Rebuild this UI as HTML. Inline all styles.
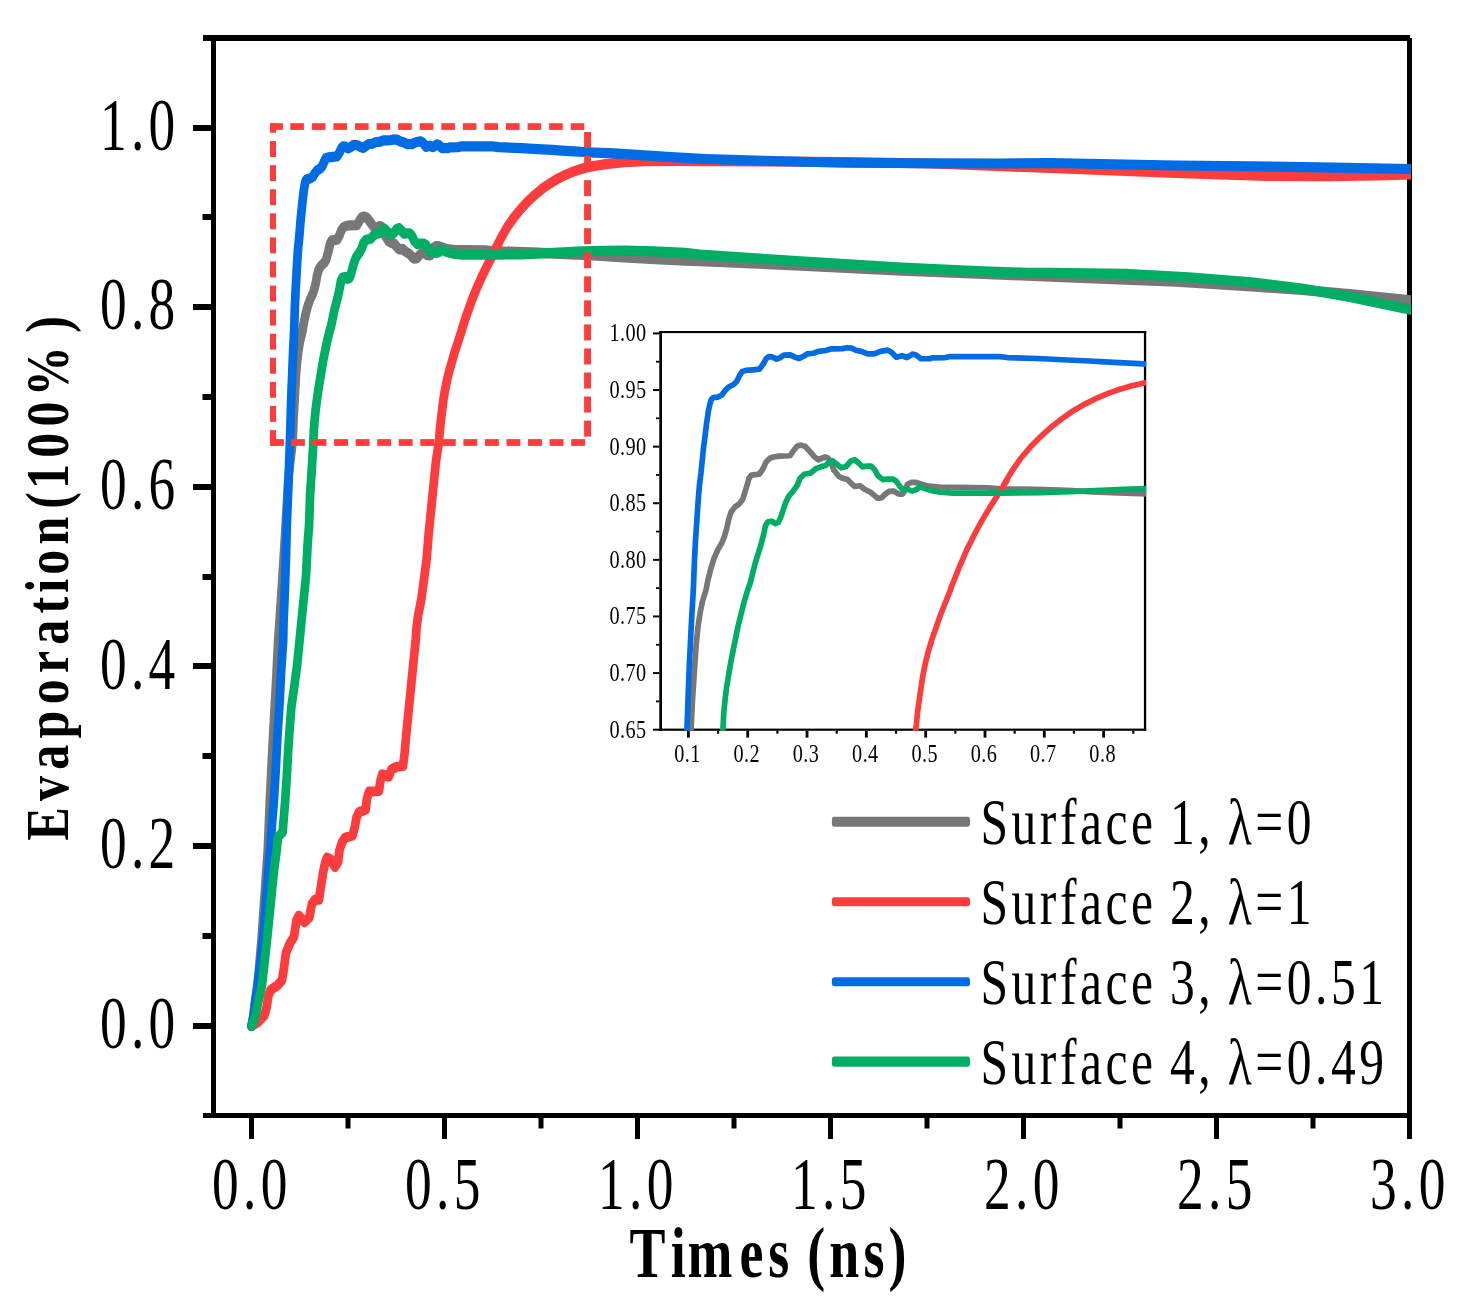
<!DOCTYPE html>
<html><head><meta charset="utf-8"><title>Evaporation</title>
<style>html,body{margin:0;padding:0;background:#fff}svg{display:block}text{font-family:"Liberation Serif",serif;fill:#000}</style>
</head><body>
<svg width="1469" height="1303" viewBox="0 0 1469 1303">
<rect x="0" y="0" width="1469" height="1303" fill="#fff"/>
<defs>
<clipPath id="cm"><rect x="0" y="0" width="1650.29" height="1303"/></clipPath>
<clipPath id="ci"><rect x="600" y="300" width="546.20" height="430.80"/></clipPath>
</defs>
<rect x="203.00" y="35.00" width="1207.00" height="6.00" fill="#000"/>
<rect x="203.00" y="1113.00" width="1209.00" height="5.00" fill="#000"/>
<rect x="211.00" y="35.00" width="5.00" height="1083.00" fill="#000"/>
<rect x="1407.00" y="38.00" width="5.00" height="1101.00" fill="#000"/>
<rect x="193.00" y="1023.00" width="18.00" height="6.00" fill="#000"/>
<rect x="193.00" y="843.00" width="18.00" height="6.00" fill="#000"/>
<rect x="193.00" y="663.00" width="18.00" height="6.00" fill="#000"/>
<rect x="193.00" y="484.00" width="18.00" height="6.00" fill="#000"/>
<rect x="193.00" y="304.00" width="18.00" height="6.00" fill="#000"/>
<rect x="193.00" y="125.00" width="18.00" height="6.00" fill="#000"/>
<rect x="202.50" y="933.00" width="8.50" height="6.00" fill="#000"/>
<rect x="202.50" y="753.00" width="8.50" height="6.00" fill="#000"/>
<rect x="202.50" y="574.00" width="8.50" height="6.00" fill="#000"/>
<rect x="202.50" y="394.00" width="8.50" height="6.00" fill="#000"/>
<rect x="202.50" y="214.00" width="8.50" height="6.00" fill="#000"/>
<rect x="249.00" y="1118.00" width="5.00" height="21.00" fill="#000"/>
<rect x="442.00" y="1118.00" width="5.00" height="21.00" fill="#000"/>
<rect x="635.00" y="1118.00" width="5.00" height="21.00" fill="#000"/>
<rect x="828.00" y="1118.00" width="5.00" height="21.00" fill="#000"/>
<rect x="1021.00" y="1118.00" width="5.00" height="21.00" fill="#000"/>
<rect x="1214.00" y="1118.00" width="5.00" height="21.00" fill="#000"/>
<rect x="345.50" y="1118.00" width="5.00" height="10.50" fill="#000"/>
<rect x="538.50" y="1118.00" width="5.00" height="10.50" fill="#000"/>
<rect x="731.50" y="1118.00" width="5.00" height="10.50" fill="#000"/>
<rect x="924.50" y="1118.00" width="5.00" height="10.50" fill="#000"/>
<rect x="1117.50" y="1118.00" width="5.00" height="10.50" fill="#000"/>
<rect x="1310.50" y="1118.00" width="5.00" height="10.50" fill="#000"/>
<g transform="scale(0.8550,1)" clip-path="url(#cm)" fill="none" stroke-linecap="round" stroke-linejoin="round" stroke-width="10.20">
<path d="M294.15 1026.00 L296.26 1016.70 L298.36 1001.40 L300.94 986.00 L303.16 966.90 L305.85 940.00 L308.77 904.50 L311.35 872.20 L313.22 850.00 L315.58 801.19 L319.35 736.71 L322.55 688.36 L325.38 640.00 L329.34 591.19 L334.05 526.71 L337.26 478.36 L342.20 442.03 L342.66 433.75 L343.32 419.15 L344.25 404.54 L345.19 389.93 L346.12 375.33 L347.52 360.72 L348.92 350.98 L350.79 341.24 L353.60 331.50 L355.00 324.19 L357.33 314.45 L359.67 306.66 L362.47 299.84 L365.75 294.00 L367.61 289.13 L369.48 282.31 L370.88 275.50 L372.75 269.65 L375.56 265.76 L379.30 262.84 L381.63 259.43 L383.50 253.10 L384.90 248.23 L386.30 243.07 L388.17 240.34 L394.25 239.66 L397.05 235.27 L399.39 229.92 L402.19 227.00 L404.99 226.02 L409.20 225.34 L417.61 225.05 L420.41 220.67 L423.22 217.26 L426.02 216.58 L429.29 217.75 L432.56 221.64 L436.30 226.02 L439.10 228.26 L441.91 227.00 L444.24 226.02 L446.58 227.00 L448.92 230.41 L450.79 236.25 L451.81 237.44 L454.61 241.34 L457.41 242.80 L461.15 243.77 L463.95 246.70 L466.76 249.42 L470.96 248.84 L474.23 251.56 L478.91 254.00 L481.71 256.43 L484.05 258.58 L487.32 258.38 L490.12 255.46 L492.92 253.32 L496.66 253.03 L499.93 255.27 L503.20 255.46 L505.26 252.54 L506.94 247.67 L509.75 246.21 L513.48 246.21 L517.22 247.47 L522.83 249.13 L531.24 249.81 L545.26 250.10 L567.68 250.40 L577.38 251.37 L605.42 251.76 L628.78 252.54 L648.40 253.71 L667.09 254.49 L689.52 255.27 L729.82 257.44 L765.65 259.07 L801.47 260.70 L818.71 261.11 L936.56 265.64 L1054.40 270.68 L1142.78 273.58 L1228.07 276.73 L1375.37 281.76 L1463.76 286.30 L1522.68 289.95 L1581.60 294.36 L1652.30 300.53" stroke="#777777"/>
<path d="M294.09 1026.01 L301.44 1022.14 L308.98 1015.69 L311.81 1007.63 L313.69 996.35 L316.52 989.90 L324.06 985.87 L329.72 980.23 L331.98 968.95 L334.43 952.83 L339.14 943.16 L343.86 936.71 L346.68 920.59 L349.51 915.76 L356.11 922.21 L361.77 917.37 L364.59 904.47 L368.36 899.64 L373.08 899.64 L374.99 888.31 L377.86 872.60 L380.30 862.77 L382.60 857.62 L386.91 859.71 L391.79 866.95 L395.52 861.55 L396.96 850.50 L399.83 842.89 L403.71 837.61 L412.32 835.52 L414.91 827.17 L417.06 817.35 L419.93 812.19 L427.69 809.74 L429.12 798.93 L431.71 791.57 L443.20 790.95 L445.06 780.27 L447.22 774.38 L454.68 776.59 L458.13 769.22 L464.02 766.76 L471.20 766.03 L472.35 759.28 L473.35 752.28 L474.88 736.71 L477.71 712.53 L480.54 688.36 L483.36 664.18 L486.19 640.00 L487.13 628.26 L489.02 615.36 L492.79 599.25 L496.56 575.07 L499.01 558.95 L501.27 534.77 L504.10 510.59 L506.93 486.42 L509.76 462.24 L513.11 443.01 L513.67 438.62 L514.60 428.88 L515.82 419.15 L517.22 409.41 L518.62 399.67 L520.49 389.93 L522.83 380.19 L525.63 370.46 L528.90 360.72 L532.17 350.98 L535.91 341.24 L539.65 331.50 L540.58 328.50 L546.19 313.89 L552.27 299.28 L558.34 286.62 L563.95 275.91 L569.55 266.17 L576.09 255.46 L582.64 244.75 L580.18 247.93 L586.73 236.74 L593.27 227.00 L600.74 217.75 L609.15 208.98 L617.56 201.19 L625.98 194.57 L634.39 188.53 L642.80 183.66 L651.21 179.28 L659.62 175.58 L668.03 172.46 L676.44 169.83 L682.98 168.28 L689.52 166.82 L708.32 164.11 L729.82 162.07 L753.70 161.05 L789.53 160.85 L825.36 161.05 L892.37 161.49 L992.53 161.99 L1083.86 163.50 L1113.32 164.26 L1172.24 166.27 L1228.07 167.91 L1301.72 170.30 L1375.37 172.95 L1481.43 175.97 L1552.14 176.10 L1611.06 175.47 L1652.30 174.46" stroke="#fd3d3d"/>
<path d="M294.15 1026.00 L296.37 1016.70 L298.60 1001.40 L301.29 986.00 L304.44 963.00 L307.60 940.00 L310.88 904.50 L313.80 872.20 L315.79 850.00 L316.14 849.54 L318.03 825.36 L320.29 801.19 L322.55 768.95 L324.44 736.71 L326.89 704.47 L328.77 672.24 L331.23 640.00 L331.60 623.42 L333.11 591.19 L334.43 558.95 L335.37 526.71 L336.88 494.47 L338.20 462.24 L339.11 442.03 L339.58 428.88 L340.23 409.41 L340.98 389.93 L341.92 370.46 L342.85 350.98 L343.97 331.50 L344.91 306.66 L345.65 292.05 L346.59 277.44 L347.52 262.84 L348.64 248.23 L349.86 238.20 L350.79 228.46 L351.73 218.72 L352.94 208.98 L354.06 199.24 L355.47 189.51 L356.68 183.66 L357.61 180.55 L359.20 178.99 L362.47 178.60 L365.75 176.85 L368.08 173.44 L370.88 170.52 L374.62 168.57 L376.96 166.13 L379.30 161.26 L381.16 158.15 L383.97 157.37 L389.57 156.88 L394.25 156.40 L397.05 152.50 L399.39 148.12 L401.26 146.46 L404.06 146.66 L407.33 148.41 L410.13 147.14 L412.94 145.20 L417.61 145.00 L421.35 146.85 L424.62 147.83 L427.89 146.17 L430.69 144.22 L435.37 143.74 L439.10 142.28 L444.71 141.59 L448.45 140.33 L451.81 140.33 L457.41 140.04 L461.15 139.35 L464.42 139.65 L468.16 141.59 L471.90 142.28 L476.57 144.22 L481.71 144.22 L486.38 142.28 L491.99 141.30 L494.79 142.96 L498.53 146.85 L502.74 145.68 L506.47 147.14 L511.15 144.42 L513.48 145.20 L517.22 148.12 L523.76 148.12 L525.63 147.44 L535.91 147.14 L538.71 146.46 L554.60 146.46 L577.03 146.46 L582.99 147.14 L610.09 148.12 L628.78 149.09 L645.60 149.87 L656.81 150.55 L671.77 151.33 L682.98 152.01 L689.52 152.40 L717.88 153.29 L753.70 155.33 L789.53 157.38 L825.36 159.01 L892.37 160.73 L986.64 162.75 L1083.86 163.25 L1172.24 163.50 L1228.07 163.00 L1375.37 165.52 L1463.76 166.27 L1543.30 167.28 L1652.30 169.04" stroke="#006ce4"/>
<path d="M294.39 1026.00 L298.60 1016.70 L302.22 1001.40 L306.32 986.00 L309.36 963.00 L312.51 938.00 L316.49 904.50 L320.23 872.20 L323.16 852.90 L323.68 849.54 L325.00 837.45 L330.66 831.81 L331.98 817.30 L333.49 801.19 L335.37 777.01 L336.88 752.83 L338.77 728.65 L340.65 707.70 L343.86 688.36 L347.63 664.18 L350.45 640.00 L352.34 623.42 L355.17 599.25 L358.00 575.07 L359.88 542.83 L361.39 526.71 L362.71 494.47 L365.16 462.24 L366.49 442.03 L367.15 428.88 L368.08 419.15 L369.20 409.41 L370.70 399.67 L372.29 389.93 L374.16 380.19 L376.02 370.46 L377.89 360.72 L380.23 350.98 L382.57 341.24 L385.37 331.50 L387.24 326.14 L389.11 318.35 L390.98 310.55 L393.31 302.76 L395.65 294.97 L397.52 287.18 L398.92 280.37 L400.79 277.44 L403.59 276.96 L406.40 278.91 L408.73 277.93 L410.60 273.55 L412.47 267.71 L414.34 261.86 L416.68 256.99 L419.95 253.10 L423.22 248.23 L425.09 243.07 L428.36 239.66 L433.50 238.68 L437.23 235.27 L440.97 233.81 L444.71 232.84 L447.51 229.92 L449.85 228.94 L451.81 230.63 L456.48 234.52 L460.22 233.55 L463.95 229.17 L466.76 228.19 L469.56 230.63 L472.83 233.84 L476.10 233.26 L479.37 233.26 L482.18 236.47 L484.51 240.85 L488.25 243.97 L491.99 243.58 L495.73 243.48 L498.53 245.23 L501.33 249.62 L503.67 252.05 L506.94 251.56 L510.68 253.03 L513.48 252.05 L516.29 249.42 L520.02 251.08 L525.63 252.73 L532.17 254.00 L541.52 254.68 L554.60 254.68 L573.29 254.68 L577.38 254.68 L609.15 254.29 L635.32 253.32 L659.62 252.34 L675.50 251.56 L689.52 250.98 L729.82 250.49 L765.65 251.31 L801.47 252.94 L818.71 254.56 L936.56 261.36 L1054.40 267.66 L1142.78 271.06 L1201.70 272.82 L1228.07 272.95 L1316.45 273.95 L1390.10 277.23 L1463.76 282.27 L1522.68 288.56 L1581.60 297.38 L1652.30 310.10" stroke="#00ad65"/>
</g>
<rect x="270.00" y="123.20" width="12.90" height="6.70" fill="#fd3d3d"/>
<rect x="290.30" y="123.20" width="13.60" height="6.70" fill="#fd3d3d"/>
<rect x="311.87" y="123.20" width="13.60" height="6.70" fill="#fd3d3d"/>
<rect x="333.44" y="123.20" width="13.60" height="6.70" fill="#fd3d3d"/>
<rect x="355.01" y="123.20" width="13.60" height="6.70" fill="#fd3d3d"/>
<rect x="376.58" y="123.20" width="13.60" height="6.70" fill="#fd3d3d"/>
<rect x="398.15" y="123.20" width="13.60" height="6.70" fill="#fd3d3d"/>
<rect x="419.72" y="123.20" width="13.60" height="6.70" fill="#fd3d3d"/>
<rect x="441.29" y="123.20" width="13.60" height="6.70" fill="#fd3d3d"/>
<rect x="462.86" y="123.20" width="13.60" height="6.70" fill="#fd3d3d"/>
<rect x="484.43" y="123.20" width="13.60" height="6.70" fill="#fd3d3d"/>
<rect x="506.00" y="123.20" width="13.60" height="6.70" fill="#fd3d3d"/>
<rect x="527.57" y="123.20" width="13.60" height="6.70" fill="#fd3d3d"/>
<rect x="549.14" y="123.20" width="13.60" height="6.70" fill="#fd3d3d"/>
<rect x="570.71" y="123.20" width="13.60" height="6.70" fill="#fd3d3d"/>
<rect x="270.00" y="439.10" width="13.90" height="6.80" fill="#fd3d3d"/>
<rect x="291.00" y="439.10" width="13.90" height="6.80" fill="#fd3d3d"/>
<rect x="312.55" y="439.10" width="13.90" height="6.80" fill="#fd3d3d"/>
<rect x="334.10" y="439.10" width="13.90" height="6.80" fill="#fd3d3d"/>
<rect x="355.65" y="439.10" width="13.90" height="6.80" fill="#fd3d3d"/>
<rect x="377.20" y="439.10" width="13.90" height="6.80" fill="#fd3d3d"/>
<rect x="398.75" y="439.10" width="13.90" height="6.80" fill="#fd3d3d"/>
<rect x="420.30" y="439.10" width="13.90" height="6.80" fill="#fd3d3d"/>
<rect x="441.85" y="439.10" width="13.90" height="6.80" fill="#fd3d3d"/>
<rect x="463.40" y="439.10" width="13.90" height="6.80" fill="#fd3d3d"/>
<rect x="484.95" y="439.10" width="13.90" height="6.80" fill="#fd3d3d"/>
<rect x="506.50" y="439.10" width="13.90" height="6.80" fill="#fd3d3d"/>
<rect x="528.05" y="439.10" width="13.90" height="6.80" fill="#fd3d3d"/>
<rect x="549.60" y="439.10" width="13.90" height="6.80" fill="#fd3d3d"/>
<rect x="571.15" y="439.10" width="13.90" height="6.80" fill="#fd3d3d"/>
<rect x="270.00" y="123.20" width="6.20" height="9.60" fill="#fd3d3d"/>
<rect x="270.00" y="141.10" width="6.00" height="15.90" fill="#fd3d3d"/>
<rect x="270.00" y="165.18" width="6.00" height="15.90" fill="#fd3d3d"/>
<rect x="270.00" y="189.26" width="6.00" height="15.90" fill="#fd3d3d"/>
<rect x="270.00" y="213.34" width="6.00" height="15.90" fill="#fd3d3d"/>
<rect x="270.00" y="237.42" width="6.00" height="15.90" fill="#fd3d3d"/>
<rect x="270.00" y="261.50" width="6.00" height="15.90" fill="#fd3d3d"/>
<rect x="270.00" y="285.58" width="6.00" height="15.90" fill="#fd3d3d"/>
<rect x="270.00" y="309.66" width="6.00" height="15.90" fill="#fd3d3d"/>
<rect x="270.00" y="333.74" width="6.00" height="15.90" fill="#fd3d3d"/>
<rect x="270.00" y="357.82" width="6.00" height="15.90" fill="#fd3d3d"/>
<rect x="270.00" y="381.90" width="6.00" height="15.90" fill="#fd3d3d"/>
<rect x="270.00" y="405.98" width="6.00" height="15.90" fill="#fd3d3d"/>
<rect x="270.00" y="430.10" width="6.00" height="15.80" fill="#fd3d3d"/>
<rect x="584.10" y="132.00" width="6.90" height="16.00" fill="#fd3d3d"/>
<rect x="584.10" y="156.05" width="6.90" height="16.00" fill="#fd3d3d"/>
<rect x="584.10" y="180.10" width="6.90" height="16.00" fill="#fd3d3d"/>
<rect x="584.10" y="204.15" width="6.90" height="16.00" fill="#fd3d3d"/>
<rect x="584.10" y="228.20" width="6.90" height="16.00" fill="#fd3d3d"/>
<rect x="584.10" y="252.25" width="6.90" height="16.00" fill="#fd3d3d"/>
<rect x="584.10" y="276.30" width="6.90" height="16.00" fill="#fd3d3d"/>
<rect x="584.10" y="300.35" width="6.90" height="16.00" fill="#fd3d3d"/>
<rect x="584.10" y="324.40" width="6.90" height="16.00" fill="#fd3d3d"/>
<rect x="584.10" y="348.45" width="6.90" height="16.00" fill="#fd3d3d"/>
<rect x="584.10" y="372.50" width="6.90" height="16.00" fill="#fd3d3d"/>
<rect x="584.10" y="396.55" width="6.90" height="16.00" fill="#fd3d3d"/>
<rect x="584.10" y="420.60" width="6.90" height="16.00" fill="#fd3d3d"/>
<rect x="659.30" y="331.00" width="486.90" height="2.10" fill="#000"/>
<rect x="659.30" y="728.60" width="486.90" height="2.20" fill="#000"/>
<rect x="659.30" y="331.00" width="2.70" height="399.80" fill="#000"/>
<rect x="1143.90" y="331.00" width="2.30" height="399.80" fill="#000"/>
<rect x="653.00" y="728.70" width="6.30" height="2.00" fill="#000"/>
<rect x="653.00" y="672.09" width="6.30" height="2.00" fill="#000"/>
<rect x="653.00" y="615.47" width="6.30" height="2.00" fill="#000"/>
<rect x="653.00" y="558.86" width="6.30" height="2.00" fill="#000"/>
<rect x="653.00" y="502.24" width="6.30" height="2.00" fill="#000"/>
<rect x="653.00" y="445.63" width="6.30" height="2.00" fill="#000"/>
<rect x="653.00" y="389.01" width="6.30" height="2.00" fill="#000"/>
<rect x="653.00" y="332.40" width="6.30" height="2.00" fill="#000"/>
<rect x="656.00" y="700.50" width="3.30" height="1.80" fill="#000"/>
<rect x="656.00" y="643.88" width="3.30" height="1.80" fill="#000"/>
<rect x="656.00" y="587.27" width="3.30" height="1.80" fill="#000"/>
<rect x="656.00" y="530.65" width="3.30" height="1.80" fill="#000"/>
<rect x="656.00" y="474.04" width="3.30" height="1.80" fill="#000"/>
<rect x="656.00" y="417.42" width="3.30" height="1.80" fill="#000"/>
<rect x="656.00" y="360.81" width="3.30" height="1.80" fill="#000"/>
<rect x="687.00" y="730.80" width="2.80" height="6.80" fill="#000"/>
<rect x="746.32" y="730.80" width="2.80" height="6.80" fill="#000"/>
<rect x="805.64" y="730.80" width="2.80" height="6.80" fill="#000"/>
<rect x="864.96" y="730.80" width="2.80" height="6.80" fill="#000"/>
<rect x="924.28" y="730.80" width="2.80" height="6.80" fill="#000"/>
<rect x="983.60" y="730.80" width="2.80" height="6.80" fill="#000"/>
<rect x="1042.92" y="730.80" width="2.80" height="6.80" fill="#000"/>
<rect x="1102.24" y="730.80" width="2.80" height="6.80" fill="#000"/>
<rect x="716.96" y="730.80" width="2.20" height="2.90" fill="#000"/>
<rect x="776.28" y="730.80" width="2.20" height="2.90" fill="#000"/>
<rect x="835.60" y="730.80" width="2.20" height="2.90" fill="#000"/>
<rect x="894.92" y="730.80" width="2.20" height="2.90" fill="#000"/>
<rect x="954.24" y="730.80" width="2.20" height="2.90" fill="#000"/>
<rect x="1013.56" y="730.80" width="2.20" height="2.90" fill="#000"/>
<rect x="1072.88" y="730.80" width="2.20" height="2.90" fill="#000"/>
<rect x="1132.20" y="730.80" width="2.20" height="2.90" fill="#000"/>
<g clip-path="url(#ci)" fill="none" stroke-linecap="round" stroke-linejoin="round" stroke-width="5.70">
<path d="M680.28 836.14 L684.49 775.17 L690.98 729.37 L691.59 718.93 L692.45 700.51 L693.68 682.09 L694.91 663.67 L696.13 645.26 L697.98 626.84 L699.82 614.56 L702.27 602.28 L705.96 590.00 L707.80 580.78 L710.87 568.50 L713.94 558.67 L717.62 550.08 L721.92 542.71 L724.38 536.57 L726.83 527.98 L728.67 519.38 L731.13 512.01 L734.81 507.10 L739.72 503.42 L742.79 499.12 L745.25 491.14 L747.09 485.00 L748.93 478.49 L751.39 475.05 L759.37 474.19 L763.06 468.66 L766.12 461.91 L769.81 458.23 L773.49 457.00 L779.02 456.14 L790.07 455.77 L793.75 450.25 L797.44 445.95 L801.12 445.09 L805.42 446.56 L809.72 451.47 L814.63 457.00 L818.31 459.82 L821.99 458.23 L825.06 457.00 L828.13 458.23 L831.20 462.52 L833.66 469.89 L835.00 471.40 L838.68 476.31 L842.37 478.15 L847.28 479.38 L850.96 483.06 L854.65 486.50 L860.17 485.77 L864.47 489.20 L870.61 492.27 L874.29 495.34 L877.36 498.05 L881.66 497.80 L885.34 494.12 L889.03 491.41 L893.94 491.05 L898.24 493.87 L902.53 494.12 L905.24 490.43 L907.45 484.29 L911.13 482.45 L916.04 482.45 L920.95 484.05 L928.32 486.13 L939.37 486.99 L957.79 487.36 L987.26 487.73 L1000.00 488.96 L1036.84 489.45 L1067.53 490.43 L1093.32 491.91 L1117.88 492.89 L1147.35 493.87 L1200.30 496.61 L1247.37 498.67" stroke="#777777"/>
<path d="M893.80 897.11 L897.02 876.79 L900.00 846.30 L903.71 815.82 L907.43 785.33 L911.14 754.84 L915.55 730.59 L916.29 725.07 L917.51 712.79 L919.11 700.51 L920.95 688.23 L922.79 675.95 L925.25 663.67 L928.32 651.39 L932.00 639.12 L936.30 626.84 L940.60 614.56 L945.51 602.28 L950.42 590.00 L951.65 586.21 L959.02 567.79 L967.00 549.37 L974.98 533.41 L982.35 519.90 L989.72 507.62 L998.31 494.12 L1006.91 480.61 L1003.68 484.63 L1012.28 470.51 L1020.87 458.23 L1030.70 446.56 L1041.75 435.51 L1052.80 425.69 L1063.85 417.34 L1074.90 409.72 L1085.95 403.59 L1097.00 398.06 L1108.06 393.39 L1119.11 389.46 L1130.16 386.15 L1138.75 384.18 L1147.35 382.34 L1172.05 378.94 L1200.30 376.36 L1231.68 375.08" stroke="#fd3d3d"/>
<path d="M680.77 876.79 L682.01 836.14 L683.99 795.49 L685.73 754.84 L686.93 729.37 L687.54 712.79 L688.40 688.23 L689.38 663.67 L690.61 639.12 L691.84 614.56 L693.31 590.00 L694.54 558.67 L695.52 540.26 L696.75 521.84 L697.98 503.42 L699.45 485.00 L701.05 472.35 L702.27 460.07 L703.50 447.79 L705.10 435.51 L706.57 423.23 L708.41 410.95 L710.01 403.59 L711.24 399.66 L713.33 397.69 L717.62 397.20 L721.92 394.99 L724.99 390.69 L728.67 387.01 L733.59 384.55 L736.66 381.48 L739.72 375.34 L742.18 371.41 L745.86 370.43 L753.23 369.82 L759.37 369.20 L763.06 364.29 L766.12 358.77 L768.58 356.68 L772.26 356.93 L776.56 359.14 L780.25 357.54 L783.93 355.08 L790.07 354.84 L794.98 357.17 L799.28 358.40 L803.58 356.31 L807.26 353.86 L813.40 353.24 L818.31 351.40 L825.68 350.54 L830.59 348.94 L835.00 348.94 L842.37 348.58 L847.28 347.72 L851.58 348.08 L856.49 350.54 L861.40 351.40 L867.54 353.86 L874.29 353.86 L880.43 351.40 L887.80 350.17 L891.48 352.26 L896.39 357.17 L901.92 355.70 L906.83 357.54 L912.97 354.10 L916.04 355.08 L920.95 358.77 L929.55 358.77 L932.00 357.91 L945.51 357.54 L949.19 356.68 L970.07 356.68 L999.54 356.68 L1007.37 357.54 L1042.98 358.77 L1067.53 360.00 L1089.64 360.98 L1104.37 361.84 L1124.02 362.82 L1138.75 363.68 L1147.35 364.17 L1184.61 365.29 L1231.68 367.87" stroke="#006ce4"/>
<path d="M711.74 897.11 L714.22 856.47 L716.20 836.14 L717.93 795.49 L721.15 754.84 L722.90 729.37 L723.76 712.79 L724.99 700.51 L726.46 688.23 L728.43 675.95 L730.52 663.67 L732.97 651.39 L735.43 639.12 L737.88 626.84 L740.95 614.56 L744.02 602.28 L747.71 590.00 L750.16 583.23 L752.62 573.41 L755.07 563.59 L758.14 553.76 L761.21 543.94 L763.67 534.12 L765.51 525.52 L767.97 521.84 L771.65 521.22 L775.33 523.68 L778.40 522.45 L780.86 516.93 L783.32 509.56 L785.77 502.19 L788.84 496.05 L793.14 491.14 L797.44 485.00 L799.89 478.49 L804.19 474.19 L810.94 472.96 L815.85 468.66 L820.77 466.82 L825.68 465.59 L829.36 461.91 L832.43 460.68 L835.00 462.80 L841.14 467.72 L846.05 466.49 L850.96 460.96 L854.65 459.73 L858.33 462.80 L862.63 466.86 L866.93 466.12 L871.22 466.12 L874.91 470.17 L877.98 475.70 L882.89 479.63 L887.80 479.14 L892.71 479.01 L896.39 481.22 L900.08 486.75 L903.15 489.82 L907.45 489.20 L912.36 491.05 L916.04 489.82 L919.72 486.50 L924.64 488.59 L932.00 490.68 L940.60 492.27 L952.88 493.13 L970.07 493.13 L994.63 493.13 L1000.00 493.13 L1041.75 492.64 L1076.13 491.41 L1108.06 490.19 L1128.93 489.20 L1147.35 488.47 L1200.30 487.85 L1247.37 488.88" stroke="#00ad65"/>
</g>
<text transform="translate(179.60,1047.70) scale(0.7250,1)" font-size="73.60" letter-spacing="5.931" word-spacing="0.000" text-anchor="end" font-weight="normal">0.0</text>
<text transform="translate(179.60,868.10) scale(0.7250,1)" font-size="73.60" letter-spacing="5.931" word-spacing="0.000" text-anchor="end" font-weight="normal">0.2</text>
<text transform="translate(179.60,688.50) scale(0.7250,1)" font-size="73.60" letter-spacing="5.931" word-spacing="0.000" text-anchor="end" font-weight="normal">0.4</text>
<text transform="translate(179.60,508.90) scale(0.7250,1)" font-size="73.60" letter-spacing="5.931" word-spacing="0.000" text-anchor="end" font-weight="normal">0.6</text>
<text transform="translate(179.60,329.30) scale(0.7250,1)" font-size="73.60" letter-spacing="5.931" word-spacing="0.000" text-anchor="end" font-weight="normal">0.8</text>
<text transform="translate(179.60,149.70) scale(0.7250,1)" font-size="73.60" letter-spacing="5.931" word-spacing="0.000" text-anchor="end" font-weight="normal">1.0</text>
<text transform="translate(251.85,1209.20) scale(0.7250,1)" font-size="73.60" letter-spacing="5.931" word-spacing="0.000" text-anchor="middle" font-weight="normal">0.0</text>
<text transform="translate(444.85,1209.20) scale(0.7250,1)" font-size="73.60" letter-spacing="5.931" word-spacing="0.000" text-anchor="middle" font-weight="normal">0.5</text>
<text transform="translate(637.85,1209.20) scale(0.7250,1)" font-size="73.60" letter-spacing="5.931" word-spacing="0.000" text-anchor="middle" font-weight="normal">1.0</text>
<text transform="translate(830.85,1209.20) scale(0.7250,1)" font-size="73.60" letter-spacing="5.931" word-spacing="0.000" text-anchor="middle" font-weight="normal">1.5</text>
<text transform="translate(1023.85,1209.20) scale(0.7250,1)" font-size="73.60" letter-spacing="5.931" word-spacing="0.000" text-anchor="middle" font-weight="normal">2.0</text>
<text transform="translate(1216.85,1209.20) scale(0.7250,1)" font-size="73.60" letter-spacing="5.931" word-spacing="0.000" text-anchor="middle" font-weight="normal">2.5</text>
<text transform="translate(1409.85,1209.20) scale(0.7250,1)" font-size="73.60" letter-spacing="5.931" word-spacing="0.000" text-anchor="middle" font-weight="normal">3.0</text>
<text transform="translate(770.00,1277.00) scale(0.7560,1)" font-size="71.30" letter-spacing="5.423" word-spacing="0.000" text-anchor="middle" font-weight="bold" dx="0.00 3.04 -3.04 3.70 0.93 0.00 -4.63 0.00 0.00 0.00">Times (ns)</text>
<text transform="translate(68.00,840.50) rotate(-90) scale(0.8040,1)" font-size="62.20" letter-spacing="7.774" word-spacing="0.000" text-anchor="start" font-weight="bold" dx="0.00 0.00 0.00 0.00 0.00 0.00 0.00 0.00 -2.92 -2.67 -1.06 1.93 -3.86 0.00 0.00 -1.31 9.20">Evaporation(100%)</text>
<rect x="831.9" y="816.75" width="138.1" height="10.10" rx="2.5" ry="3" fill="#777777"/>
<text transform="translate(980.50,844.40) scale(0.7500,1)" font-size="66.00" letter-spacing="4.733" word-spacing="-3.200" text-anchor="start" font-weight="normal">Surface 1, λ=0</text>
<rect x="831.9" y="897.30" width="138.1" height="8.90" rx="2.5" ry="3" fill="#fd3d3d"/>
<text transform="translate(980.50,924.10) scale(0.7500,1)" font-size="66.00" letter-spacing="4.733" word-spacing="-3.200" text-anchor="start" font-weight="normal">Surface 2, λ=1</text>
<rect x="831.9" y="977.20" width="138.1" height="9.00" rx="2.5" ry="3" fill="#006ce4"/>
<text transform="translate(980.50,1003.80) scale(0.7500,1)" font-size="66.00" letter-spacing="4.733" word-spacing="-3.200" text-anchor="start" font-weight="normal">Surface 3, λ=0.51</text>
<rect x="831.9" y="1056.60" width="138.1" height="10.10" rx="2.5" ry="3" fill="#00ad65"/>
<text transform="translate(980.50,1083.50) scale(0.7500,1)" font-size="66.00" letter-spacing="4.733" word-spacing="-3.200" text-anchor="start" font-weight="normal">Surface 4, λ=0.49</text>
<g opacity="0.999">
<text transform="translate(646.62,737.60) scale(0.8300,1)" font-size="24.40" letter-spacing="0.506" word-spacing="0.000" text-anchor="end" font-weight="normal">0.65</text>
<text transform="translate(646.62,680.99) scale(0.8300,1)" font-size="24.40" letter-spacing="0.506" word-spacing="0.000" text-anchor="end" font-weight="normal">0.70</text>
<text transform="translate(646.62,624.37) scale(0.8300,1)" font-size="24.40" letter-spacing="0.506" word-spacing="0.000" text-anchor="end" font-weight="normal">0.75</text>
<text transform="translate(646.62,567.76) scale(0.8300,1)" font-size="24.40" letter-spacing="0.506" word-spacing="0.000" text-anchor="end" font-weight="normal">0.80</text>
<text transform="translate(646.62,511.14) scale(0.8300,1)" font-size="24.40" letter-spacing="0.506" word-spacing="0.000" text-anchor="end" font-weight="normal">0.85</text>
<text transform="translate(646.62,454.53) scale(0.8300,1)" font-size="24.40" letter-spacing="0.506" word-spacing="0.000" text-anchor="end" font-weight="normal">0.90</text>
<text transform="translate(646.62,397.91) scale(0.8300,1)" font-size="24.40" letter-spacing="0.506" word-spacing="0.000" text-anchor="end" font-weight="normal">0.95</text>
<text transform="translate(646.62,341.30) scale(0.8300,1)" font-size="24.40" letter-spacing="0.506" word-spacing="0.000" text-anchor="end" font-weight="normal">1.00</text>
<text transform="translate(687.41,761.80) scale(0.8300,1)" font-size="24.40" letter-spacing="0.506" word-spacing="0.000" text-anchor="middle" font-weight="normal">0.1</text>
<text transform="translate(746.73,761.80) scale(0.8300,1)" font-size="24.40" letter-spacing="0.506" word-spacing="0.000" text-anchor="middle" font-weight="normal">0.2</text>
<text transform="translate(806.05,761.80) scale(0.8300,1)" font-size="24.40" letter-spacing="0.506" word-spacing="0.000" text-anchor="middle" font-weight="normal">0.3</text>
<text transform="translate(865.37,761.80) scale(0.8300,1)" font-size="24.40" letter-spacing="0.506" word-spacing="0.000" text-anchor="middle" font-weight="normal">0.4</text>
<text transform="translate(924.69,761.80) scale(0.8300,1)" font-size="24.40" letter-spacing="0.506" word-spacing="0.000" text-anchor="middle" font-weight="normal">0.5</text>
<text transform="translate(984.01,761.80) scale(0.8300,1)" font-size="24.40" letter-spacing="0.506" word-spacing="0.000" text-anchor="middle" font-weight="normal">0.6</text>
<text transform="translate(1043.33,761.80) scale(0.8300,1)" font-size="24.40" letter-spacing="0.506" word-spacing="0.000" text-anchor="middle" font-weight="normal">0.7</text>
<text transform="translate(1102.65,761.80) scale(0.8300,1)" font-size="24.40" letter-spacing="0.506" word-spacing="0.000" text-anchor="middle" font-weight="normal">0.8</text>
</g>
</svg>
</body></html>
